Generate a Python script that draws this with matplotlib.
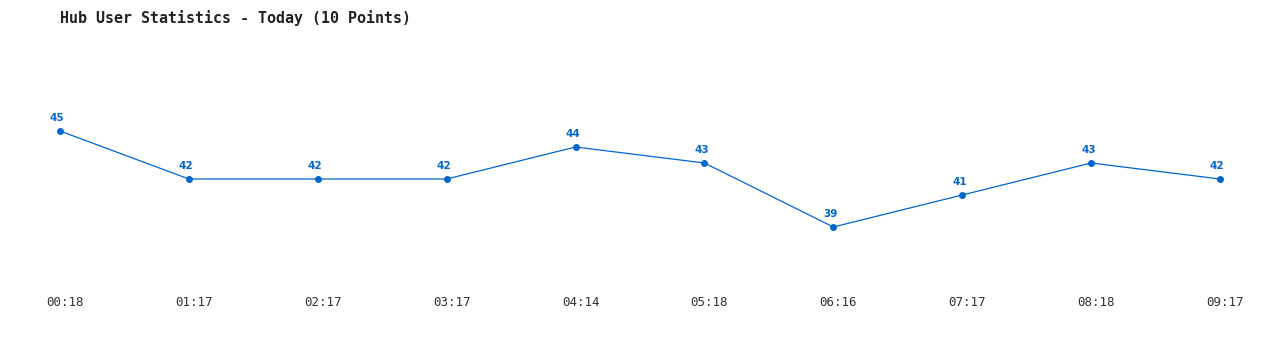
"""
Hub user statistics - line chart of today's 10 samples.
"""
import matplotlib
matplotlib.use('Agg')
import matplotlib.pyplot as plt
import matplotlib.transforms as mtransforms

# Datos
horas = ['00:18', '01:17', '02:17', '03:17', '04:14', '05:18', '06:16', '07:17', '08:18', '09:17']
usuarios = [45, 42, 42, 42, 44, 43, 39, 41, 43, 42]

color_linea = '#0066cc'
W, H = 1280, 350

fig = plt.figure(figsize=(W / 100, H / 100), dpi=100)
fig.patch.set_facecolor('white')

# ejes colocados en pixeles: primer punto x=60, ultimo x=1220; valor 45 en y=131, 39 en y=227
ax = fig.add_axes([60 / W, (H - 227) / H, 1160 / W, 96 / H])
x = list(range(len(horas)))
ax.plot(x, usuarios, color=color_linea, linewidth=0.9, marker='o', markersize=5,
        markeredgewidth=0, clip_on=False)
ax.set_xlim(0, len(horas) - 1)
ax.set_ylim(min(usuarios), max(usuarios))

for xi, v in zip(x, usuarios):
    ax.annotate(str(v), (xi, v), xytext=(-2, 6), textcoords='offset points',
                ha='center', va='bottom', fontsize=7.5, fontweight='bold',
                color=color_linea, family='DejaVu Sans')

ax.set_xticks(x)
ax.set_xticklabels(horas, family='DejaVu Sans Mono', fontsize=9, color='#333333')
ax.tick_params(axis='x', length=0, pad=50)
ax.set_yticks([])
desplaz = mtransforms.ScaledTranslation(5 / 100, 0, fig.dpi_scale_trans)
for lbl in ax.get_xticklabels():
    lbl.set_transform(lbl.get_transform() + desplaz)

for s in ax.spines.values():
    s.set_visible(False)

fig.text(60 / W, 1 - 18 / H, 'Hub User Statistics - Today (10 Points)',
         family='DejaVu Sans Mono', fontsize=10.8, fontweight='bold',
         color='#222222', ha='left', va='center')

fig.savefig('out.png', dpi=100, facecolor='white')
